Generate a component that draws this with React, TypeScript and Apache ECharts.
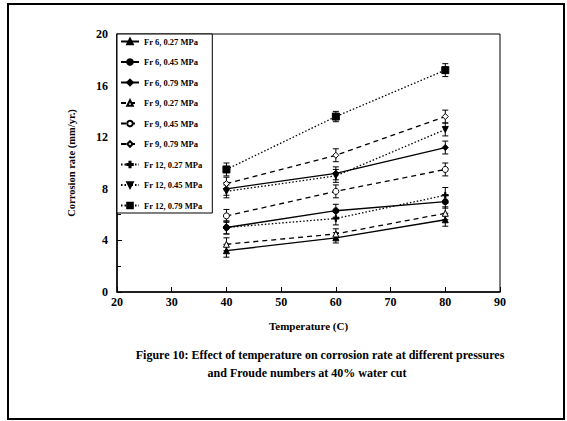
import React, { useEffect, useRef } from "react";
import * as echarts from "echarts";

const temps = [40, 60, 80];
const seriesNames = [
  "Fr 6, 0.27 MPa",
  "Fr 6, 0.45 MPa",
  "Fr 6, 0.79 MPa",
  "Fr 9, 0.27 MPa",
  "Fr 9, 0.45 MPa",
  "Fr 9, 0.79 MPa",
  "Fr 12, 0.27 MPa",
  "Fr 12, 0.45 MPa",
  "Fr 12, 0.79 MPa",
];
const fr6_027 = [3.2, 4.2, 5.6];
const fr6_045 = [5.0, 6.3, 7.0];
const fr6_079 = [8.0, 9.2, 11.2];
const fr9_027 = [3.7, 4.5, 6.1];
const fr9_045 = [5.9, 7.8, 9.5];
const fr9_079 = [8.4, 10.6, 13.6];
const fr12_027 = [5.0, 5.7, 7.5];
const fr12_045 = [7.8, 9.0, 12.6];
const fr12_079 = [9.5, 13.6, 17.2];
const errors = [
  [0.5, 0.4, 0.5],
  [0.5, 0.5, 0.5],
  [0.5, 0.5, 0.5],
  [0.5, 0.4, 0.5],
  [0.5, 0.5, 0.5],
  [0.5, 0.5, 0.5],
  [0.5, 0.5, 0.6],
  [0.5, 0.5, 0.5],
  [0.5, 0.4, 0.5],
];
const yTicks = [0, 4, 8, 12, 16, 20];
const xTicks = [20, 30, 40, 50, 60, 70, 80, 90];
const captionLines = [
  "Figure 10: Effect of temperature on corrosion rate at different pressures",
  "and Froude numbers at 40% water cut",
];

const allValues = [fr6_027, fr6_045, fr6_079, fr9_027, fr9_045, fr9_079, fr12_027, fr12_045, fr12_079];

const PLUS = "path://M4,0H6V4H10V6H6V10H4V6H0V4H4Z";
const DOWN = "path://M0,0L10,0L5,9Z";

const styles = [
  { symbol: "triangle", fill: "#000", dash: "solid" },
  { symbol: "circle", fill: "#000", dash: "solid" },
  { symbol: "diamond", fill: "#000", dash: "solid" },
  { symbol: "triangle", fill: "#fff", dash: [5, 4] },
  { symbol: "circle", fill: "#fff", dash: [5, 4] },
  { symbol: "diamond", fill: "#fff", dash: [5, 4] },
  { symbol: PLUS, fill: "#000", dash: [1.5, 2] },
  { symbol: DOWN, fill: "#000", dash: [1.5, 2] },
  { symbol: "rect", fill: "#000", dash: [1.5, 2] },
];

const FONT = "Liberation Serif";

export default function App() {
  const ref = useRef<HTMLDivElement>(null);
  useEffect(() => {
    if (!ref.current) return;
    const chart = echarts.init(ref.current, undefined, { renderer: "svg" });
    const lineSeries = seriesNames.map((name, i) => ({
      name,
      type: "line",
      data: temps.map((t, j) => [t, allValues[i][j]]),
      symbol: styles[i].symbol,
      symbolSize: i === 8 ? 7 : 6,
      color: "#000",
      lineStyle: { color: "#000", width: 1.3, type: styles[i].dash },
      itemStyle: { color: styles[i].fill, borderColor: "#000", borderWidth: 1 },
      z: 3,
    }));
    const errSeries = seriesNames.map((name, i) => ({
      name: name + " err",
      type: "custom",
      data: temps.map((t, j) => [t, allValues[i][j], errors[i][j]]),
      renderItem: (params: any, api: any) => {
        const x = api.value(0);
        const y = api.value(1);
        const e = api.value(2);
        const lo = api.coord([x, y - e]);
        const hi = api.coord([x, y + e]);
        const w = 3;
        const st = { stroke: "#000", lineWidth: 1 };
        return {
          type: "group",
          children: [
            { type: "line", shape: { x1: lo[0], y1: lo[1], x2: hi[0], y2: hi[1] }, style: st },
            { type: "line", shape: { x1: lo[0] - w, y1: lo[1], x2: lo[0] + w, y2: lo[1] }, style: st },
            { type: "line", shape: { x1: hi[0] - w, y1: hi[1], x2: hi[0] + w, y2: hi[1] }, style: st },
          ],
        };
      },
      z: 2,
    }));
    chart.setOption({
      animation: false,
      backgroundColor: "#fff",
      textStyle: { fontFamily: FONT, color: "#000" },
      grid: {
        left: 117,
        top: 34,
        right: 67,
        bottom: 129,
        show: true,
        borderColor: "#000",
        borderWidth: 1,
      },
      legend: {
        data: seriesNames,
        orient: "vertical",
        left: 117,
        top: 34,
        itemWidth: 18,
        itemHeight: 7,
        itemGap: 11.5,
        padding: [3, 10, 3, 3],
        borderColor: "#000",
        borderWidth: 1,
        backgroundColor: "#fff",
        textStyle: { fontFamily: FONT, fontSize: 8.5, fontWeight: "bold", color: "#000" },
      },
      xAxis: {
        type: "value",
        min: 20,
        max: 90,
        interval: 10,
        name: "Temperature (C)",
        nameLocation: "middle",
        nameGap: 28,
        nameTextStyle: { fontFamily: FONT, fontSize: 11, fontWeight: "bold", color: "#000" },
        axisLine: { lineStyle: { color: "#000", width: 1.5 } },
        axisTick: { inside: true, length: 5, lineStyle: { color: "#000" } },
        axisLabel: {
          fontFamily: FONT,
          fontSize: 12,
          fontWeight: "bold",
          color: "#000",
          margin: 4,
          formatter: (v: number) => (xTicks.includes(v) ? String(v) : ""),
        },
        splitLine: { show: false },
      },
      yAxis: {
        type: "value",
        min: 0,
        max: 20,
        interval: 4,
        name: "Corrosion rate (mm/yr.)",
        nameLocation: "middle",
        nameGap: 40,
        nameTextStyle: { fontFamily: FONT, fontSize: 10.5, fontWeight: "bold", color: "#000" },
        axisLine: { show: true, lineStyle: { color: "#000", width: 1.5 } },
        axisTick: { show: true, inside: true, length: 5, lineStyle: { color: "#000" } },
        minorTick: { show: true, splitNumber: 2, length: 4, lineStyle: { color: "#000" } },
        axisLabel: {
          fontFamily: FONT,
          fontSize: 12,
          fontWeight: "bold",
          color: "#000",
          margin: 9,
          formatter: (v: number) => (yTicks.includes(v) ? String(v) : ""),
        },
        splitLine: { show: false },
      },
      graphic: [
        {
          type: "rect",
          shape: { x: 8, y: 4, width: 556, height: 415 },
          style: { fill: "none", stroke: "#000", lineWidth: 2 },
          silent: true,
        },
        {
          type: "text",
          x: 320,
          y: 355,
          style: {
            text: captionLines[0],
            fontFamily: FONT,
            fontSize: 12,
            fontWeight: "bold",
            fill: "#000",
            align: "center",
            verticalAlign: "middle",
          },
        },
        {
          type: "text",
          x: 307,
          y: 373,
          style: {
            text: captionLines[1],
            fontFamily: FONT,
            fontSize: 12,
            fontWeight: "bold",
            fill: "#000",
            align: "center",
            verticalAlign: "middle",
          },
        },
      ],
      series: [...errSeries, ...lineSeries],
    });
    return () => chart.dispose();
  }, []);
  return (
    <div
      ref={ref}
      style={{ position: "absolute", left: 0, top: 0, width: 567, height: 421 }}
    />
  );
}
